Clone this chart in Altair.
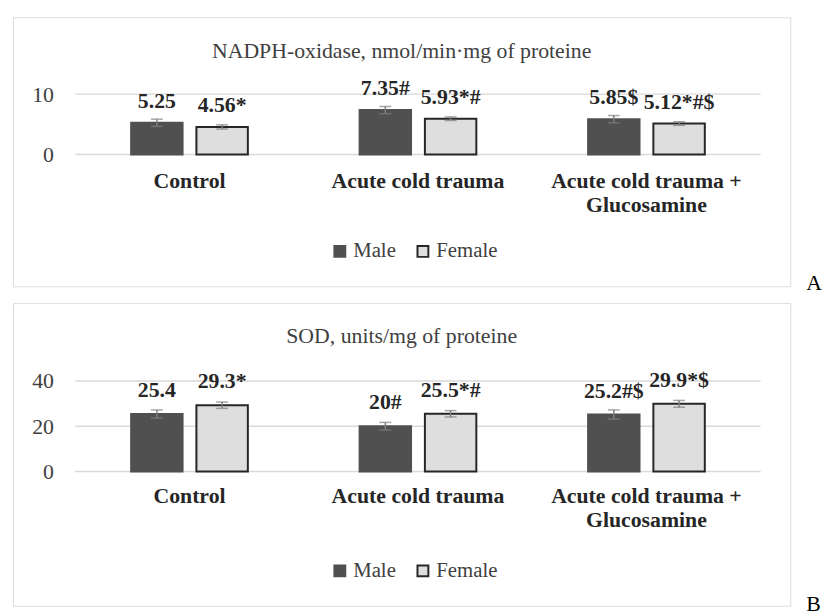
import altair as alt
import pandas as pd

categories = ["Control", "Acute cold trauma", "Acute cold trauma + Glucosamine"]
sexes = ["Male", "Female"]

nadph_male = [5.25, 7.35, 5.85]
nadph_female = [4.56, 5.93, 5.12]
nadph_male_err = [0.6, 0.6, 0.6]
nadph_female_err = [0.35, 0.3, 0.3]
nadph_male_labels = ["5.25", "7.35#", "5.85$"]
nadph_female_labels = ["4.56*", "5.93*#", "5.12*#$"]
nadph_ticks = [0, 10]

sod_male = [25.4, 20.0, 25.2]
sod_female = [29.3, 25.5, 29.9]
sod_male_err = [1.8, 1.7, 2.0]
sod_female_err = [1.4, 1.4, 1.5]
sod_male_labels = ["25.4", "20#", "25.2#$"]
sod_female_labels = ["29.3*", "25.5*#", "29.9*$"]
sod_ticks = [0, 20, 40]

titles = ["NADPH-oxidase, nmol/min·mg of proteine", "SOD, units/mg of proteine"]
letters = ["A", "B"]

FONT = "Liberation Serif"
FILL = ["#505050", "#dedede"]
STROKE = ["#505050", "#262626"]
W = 786


def panel(male, female, male_err, female_err, male_lab, female_lab, ticks,
          title, letter, H, yrange, xoff, legend_y, label_dy, title_y, letter_y):
    rows = []
    for i, c in enumerate(categories):
        for s, v, e, l in (("Male", male[i], male_err[i], male_lab[i]),
                           ("Female", female[i], female_err[i], female_lab[i])):
            rows.append({"category": c, "sex": s, "value": v,
                         "lo": v - e, "hi": v + e, "label": l})
    df = pd.DataFrame(rows)
    caps = pd.concat([
        df.assign(cap=df["lo"]), df.assign(cap=df["hi"])
    ], ignore_index=True)

    xscale = alt.Scale(domain=categories, range=[63, 756], paddingInner=0, paddingOuter=0)
    xaxis = alt.Axis(title=None, orient="bottom", offset=xoff, domain=False, ticks=False,
                     tickSize=0, labelPadding=0, labelAngle=0, labelBaseline="top",
                     labelFont=FONT, labelFontSize=22, labelFontWeight="bold",
                     labelColor="#262626", labelLineHeight=24, labelLimit=400,
                     labelExpr="indexof(datum.label, ' + ') > 0 ? [slice(datum.label, 0, indexof(datum.label, ' + ') + 2), slice(datum.label, indexof(datum.label, ' + ') + 3)] : datum.label")
    yscale = alt.Scale(domain=[ticks[0], ticks[-1]], range=yrange, nice=False, zero=True)
    yaxis = alt.Axis(title=None, values=ticks, offset=-41, domain=False, ticks=False,
                     tickSize=0, labelPadding=0, grid=False, labelFont=FONT,
                     labelFontSize=22, labelColor="#404040", labelBaseline="middle")
    xoffset = alt.XOffset("sex:N", sort=sexes,
                          scale=alt.Scale(domain=sexes, paddingInner=0.212, paddingOuter=0.856))

    def X():
        return alt.X("category:N", sort=categories, scale=xscale, axis=xaxis)

    def Y(f):
        return alt.Y(f"{f}:Q", scale=yscale, axis=yaxis)

    legend = alt.Legend(title=None, orient="none", direction="horizontal",
                        legendX=320, legendY=legend_y, padding=0,
                        symbolType="square", symbolSize=121, symbolStrokeWidth=2,
                        labelFont=FONT, labelFontSize=21, labelColor="#404040",
                        labelOffset=3, columnPadding=16)

    grid = alt.Chart(pd.DataFrame({"t": ticks})).mark_rule(
        color="#d9d9d9", strokeWidth=1.5
    ).encode(y=Y("t"), x=alt.value(63), x2=alt.value(756))

    bars = alt.Chart(df).mark_bar(strokeWidth=2).encode(
        x=X(), xOffset=xoffset, y=Y("value"),
        fill=alt.Fill("sex:N", sort=sexes, scale=alt.Scale(domain=sexes, range=FILL), legend=legend),
        stroke=alt.Stroke("sex:N", sort=sexes, scale=alt.Scale(domain=sexes, range=STROKE), legend=legend),
    )

    err = alt.Chart(df).mark_rule(color="#7f7f7f", strokeWidth=1.5).encode(
        x=X(), xOffset=xoffset, y=Y("lo"), y2="hi:Q"
    )
    cap = alt.Chart(caps).mark_tick(color="#7f7f7f", size=12, thickness=1.5).encode(
        x=X(), xOffset=xoffset, y=Y("cap")
    )
    labels = alt.Chart(df).mark_text(
        font=FONT, fontSize=22, fontWeight="bold", color="#262626",
        baseline="middle", dy=label_dy
    ).encode(x=X(), xOffset=xoffset, y=Y("value"), text="label:N")

    ttl = alt.Chart(pd.DataFrame({"t": [title]})).mark_text(
        font=FONT, fontSize=22, color="#404040", baseline="middle", align="center"
    ).encode(text="t:N", x=alt.value(393), y=alt.value(title_y))

    let = alt.Chart(pd.DataFrame({"t": [letter]})).mark_text(
        font=FONT, fontSize=22, color="#000000", baseline="alphabetic", align="left"
    ).encode(text="t:N", x=alt.value(802), y=alt.value(letter_y))

    return alt.layer(grid, bars, err, cap, labels, ttl, let).properties(width=W, height=H)


pA = panel(nadph_male, nadph_female, nadph_male_err, nadph_female_err,
           nadph_male_labels, nadph_female_labels, nadph_ticks,
           titles[0], letters[0], 272, [138.7, 77.7], -117, 226, -22, 34, 276)
pB = panel(sod_male, sod_female, sod_male_err, sod_female_err,
           sod_male_labels, sod_female_labels, sod_ticks,
           titles[1], letters[1], 306, [170.3, 78.7], -121, 260, -24, 33, 311)

chart = alt.vconcat(pA, pB, spacing=17, bounds="flush").resolve_scale(
    fill="independent", stroke="independent"
).resolve_legend(
    fill="independent", stroke="independent"
).properties(
    padding={"left": 4, "top": 5, "right": 0, "bottom": 0}
).configure_view(stroke="#d9d9d9", strokeWidth=1.3).configure(background="white")

chart.save("out.html", embed_options={"renderer": "svg", "actions": False})
